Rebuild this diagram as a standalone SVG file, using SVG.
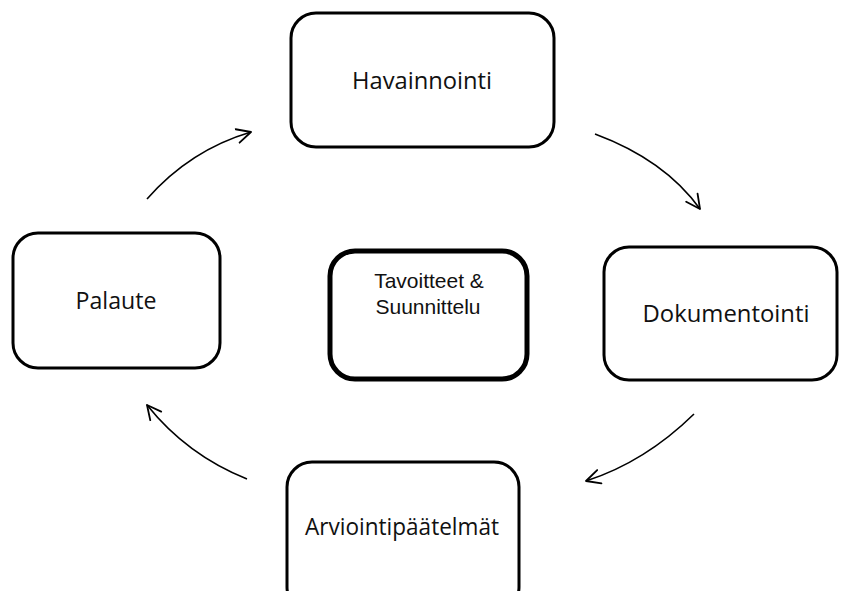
<svg xmlns="http://www.w3.org/2000/svg" width="845" height="591" viewBox="0 0 845 591">
<style>
.box{fill:#fff;stroke:#000;stroke-width:3}
.box2{fill:#fff;stroke:#000;stroke-width:5}
.lbl{font-family:"Open Sans","Noto Sans","Liberation Sans",sans-serif;font-size:24px;fill:#111;text-anchor:middle}
.lbl2{font-family:"Liberation Sans",Arial,sans-serif;font-size:21px;fill:#111;text-anchor:middle}
.conn{fill:none;stroke:#000;stroke-width:1.6}
</style>
<defs>
<marker id="arr" markerUnits="userSpaceOnUse" markerWidth="20" markerHeight="20" viewBox="0 0 20 20" refX="15" refY="10" orient="auto">
<path d="M1,3 L15,10 L1,17" fill="none" stroke="#000" stroke-width="1.8" stroke-linecap="round" stroke-linejoin="round"/>
</marker>
</defs>
<rect width="845" height="591" fill="#fff"/>
<g id="connectors">
<path class="conn" d="M147,199 Q190,150 251,132" marker-end="url(#arr)"/>
<path class="conn" d="M595,134 Q665,160 700,209" marker-end="url(#arr)"/>
<path class="conn" d="M694,414 Q645,462 586,481" marker-end="url(#arr)"/>
<path class="conn" d="M247,479 Q187,455 147,405" marker-end="url(#arr)"/>
</g>
<g id="havainnointi">
<rect class="box" x="291" y="13" width="263" height="134" rx="25"/>
<text class="lbl" x="422" y="89" textLength="140" lengthAdjust="spacingAndGlyphs">Havainnointi</text>
</g>
<g id="palaute">
<rect class="box" x="13" y="233" width="207" height="135" rx="25"/>
<text class="lbl" x="116" y="309" textLength="81" lengthAdjust="spacingAndGlyphs">Palaute</text>
</g>
<g id="tavoitteet">
<rect class="box2" x="330" y="251" width="197" height="128" rx="25"/>
<text class="lbl2" x="429" y="288">Tavoitteet &amp;</text>
<text class="lbl2" x="428" y="314">Suunnittelu</text>
</g>
<g id="dokumentointi">
<rect class="box" x="604" y="247" width="233" height="133" rx="25"/>
<text class="lbl" x="726" y="322" textLength="167" lengthAdjust="spacingAndGlyphs">Dokumentointi</text>
</g>
<g id="arviointipaatelmat">
<rect class="box" x="287" y="462" width="232" height="150" rx="25"/>
<text class="lbl" x="402" y="535" textLength="194" lengthAdjust="spacingAndGlyphs">Arviointipäätelmät</text>
</g>
</svg>
